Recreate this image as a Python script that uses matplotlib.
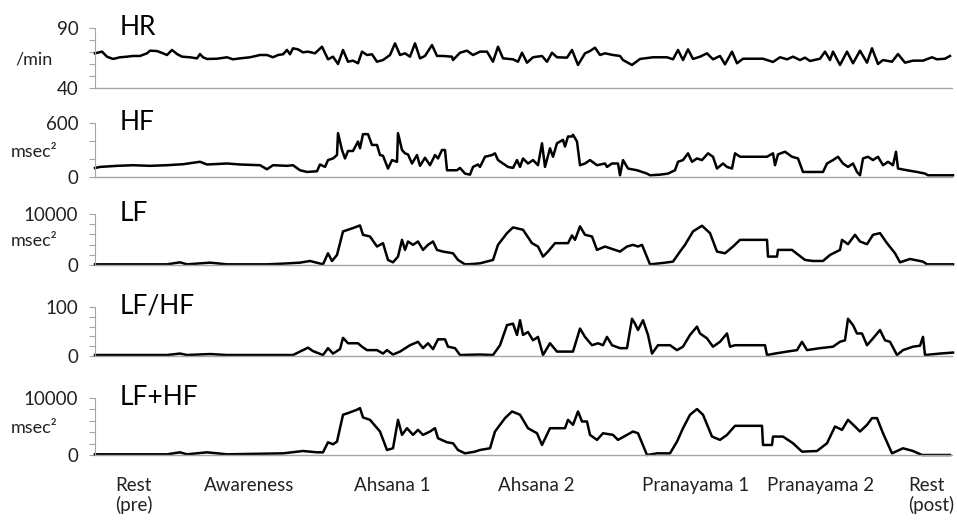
#%% Imports
import matplotlib
matplotlib.use('Agg')
import matplotlib.pyplot as plt
import matplotlib.transforms as mtransforms

plt.rcParams['font.family'] = ['Lato', 'DejaVu Sans']

#%% Data (time in arbitrary units)
hr_t = [0, 7, 12, 18, 25, 32, 38, 45, 52, 55, 62, 68, 72, 77, 82, 87, 95, 102, 105, 108,
        112, 122, 132, 138, 145, 155, 165, 172, 178, 183, 188, 192, 195, 198, 203, 208, 213, 220, 227, 233,
        238, 243, 248, 253, 258, 263, 267, 272, 277, 282, 288, 295, 300, 305, 310, 315, 320, 325, 330, 337,
        342, 348, 357, 358, 365, 372, 378, 385, 392, 398, 403, 408, 418, 423, 427, 432, 438, 447, 452, 457,
        462, 472, 477, 483, 490, 495, 500, 505, 510, 518, 525, 528, 537, 545, 558, 572, 578, 583, 588, 593,
        598, 605, 612, 618, 625, 630, 637, 642, 648, 668, 678, 685, 692, 698, 705, 710, 715, 725, 730, 735,
        738, 745, 752, 758, 765, 772, 777, 783, 788, 797, 803, 810, 818, 828, 837, 842, 850, 855]
hr = [68.9, 70.3, 66.1, 64.2, 65.6, 66.1, 66.7, 66.7, 68.9, 71.1, 70.8, 68.9, 67.5, 71.7, 68.3, 66.1, 65.6, 64.7, 68.3, 65.6,
      64.2, 64.4, 65.6, 63.9, 64.7, 65.6, 67.5, 67.5, 65.6, 67.5, 68.1, 71.7, 68.1, 73.1, 72.2, 69.7, 70.3, 68.9, 74.4, 63.9,
      66.1, 60.0, 71.7, 61.9, 62.8, 60.6, 70.3, 67.5, 68.1, 61.9, 63.3, 67.5, 77.2, 67.5, 68.9, 66.1, 77.2, 64.7, 66.7, 75.8,
      66.7, 66.7, 66.1, 63.3, 69.4, 71.1, 67.5, 70.3, 70.3, 61.9, 74.4, 64.7, 63.9, 61.9, 69.4, 61.1, 65.6, 66.7, 61.9, 69.4,
      65.6, 65.3, 71.7, 59.2, 68.9, 70.8, 73.6, 67.5, 68.9, 67.5, 66.7, 63.3, 59.2, 64.2, 65.6, 65.6, 63.9, 71.7, 63.3, 72.2,
      64.2, 66.1, 68.9, 63.9, 66.7, 59.7, 70.3, 60.6, 64.4, 64.4, 61.7, 65.6, 63.9, 66.1, 63.3, 65.3, 62.5, 64.4, 70.3, 63.3,
      70.3, 59.2, 70.3, 60.6, 71.1, 61.1, 73.1, 60.0, 63.3, 61.9, 68.3, 61.1, 62.8, 62.8, 65.6, 63.9, 64.4, 66.7]

hf_t = [0, 5, 22, 38, 55, 72, 88, 105, 112, 132, 145, 165, 172, 178, 192, 198, 205, 212, 222, 225,
        230, 233, 238, 242, 243, 247, 250, 253, 258, 263, 265, 268, 273, 277, 282, 285, 288, 293, 297, 302,
        303, 307, 310, 313, 317, 322, 325, 330, 335, 340, 343, 347, 350, 352, 362, 365, 370, 375, 378, 383,
        385, 390, 397, 400, 403, 408, 413, 418, 422, 425, 428, 433, 438, 443, 447, 450, 455, 458, 462, 468,
        470, 473, 477, 478, 482, 485, 490, 495, 502, 510, 512, 517, 523, 525, 528, 533, 542, 552, 555, 565,
        573, 580, 583, 588, 593, 597, 602, 607, 613, 618, 622, 628, 632, 637, 640, 645, 672, 678, 680, 683,
        690, 697, 703, 708, 718, 728, 732, 738, 743, 748, 753, 758, 762, 765, 768, 773, 778, 783, 788, 793,
        798, 801, 803, 812, 822, 830, 833, 845, 858]
hf = [100, 112, 124, 131, 124, 131, 142, 169, 139, 150, 139, 131, 86, 131, 124, 131, 75, 56, 64, 139,
      112, 188, 206, 244, 488, 300, 206, 289, 289, 394, 319, 476, 476, 356, 356, 244, 236, 94, 188, 169,
      488, 300, 263, 251, 150, 244, 124, 214, 131, 244, 206, 300, 300, 75, 75, 101, 38, 26, 112, 139,
      112, 225, 244, 263, 188, 150, 112, 101, 188, 112, 206, 150, 188, 131, 375, 112, 319, 225, 375, 413,
      338, 450, 450, 469, 394, 131, 150, 188, 131, 150, 112, 150, 150, 19, 188, 94, 75, 38, 19, 26,
      38, 75, 169, 188, 263, 169, 206, 188, 263, 225, 94, 150, 112, 94, 263, 225, 225, 263, 131, 251,
      281, 225, 206, 56, 56, 56, 150, 188, 225, 150, 112, 150, 56, 19, 206, 225, 188, 225, 131, 169,
      131, 281, 94, 75, 56, 38, 19, 19, 19]

lf_t = [0, 22, 72, 85, 92, 115, 132, 172, 188, 205, 215, 228, 233, 237, 242, 248, 258, 265, 268, 275,
        282, 288, 293, 298, 303, 307, 310, 313, 318, 323, 328, 333, 338, 342, 348, 358, 363, 370, 378,
        385, 398, 403, 412, 418, 428, 437, 443, 448, 453, 460, 473, 477, 480, 485, 490, 497, 502, 510, 515,
        525, 532, 538, 543, 547, 555, 565, 578, 585, 590, 598, 607, 615, 622, 630, 638, 645, 672, 673, 682,
        683, 697, 710, 718, 728, 735, 745, 747, 753, 760, 765, 772, 778, 785, 792, 800, 805, 815, 828, 832, 858]
lf = [130, 130, 130, 526, 130, 460, 130, 130, 263, 460, 790, 130, 2300, 790, 1970, 6580, 7240, 7760, 5920, 5590,
      3620, 4280, 990, 526, 1650, 4930, 2960, 4610, 3950, 4610, 2960, 3950, 4610, 2960, 2630, 2300, 990, 130, 200,
      330, 990, 3950, 6250, 7370, 6910, 4280, 3620, 1650, 2630, 4280, 4280, 5790, 4930, 7570, 5920, 5590, 2960, 3620, 3290,
      2630, 3620, 3950, 3620, 3950, 130, 330, 660, 2630, 3950, 6580, 7700, 6250, 2630, 2300, 3620, 4930, 4930, 1650, 1650,
      2960, 2960, 990, 790, 790, 1970, 2960, 4930, 4080, 5920, 4610, 4080, 5920, 6250, 4280, 2300, 526, 1180, 660, 130, 130]

ratio_t = [0, 72, 85, 92, 115, 132, 198, 208, 213, 218, 228, 233, 238, 245, 248, 253, 263, 267, 272, 282,
           288, 292, 298, 305, 315, 323, 328, 333, 338, 343, 350, 353, 360, 365,
           385, 398, 405, 412, 418, 422, 425, 428, 433, 438, 443, 448, 455, 462, 478, 485, 490, 497, 503, 508,
           512, 517, 525, 532, 537, 540, 543, 548, 553, 557, 563, 575, 582, 588, 595, 602, 605, 612, 618, 625,
           632, 635, 640, 645, 670, 672, 680, 692, 702, 707, 712, 725, 738, 745, 750, 753, 758, 762, 767, 772,
           778, 785, 790, 795, 802, 808, 818, 825, 828, 830, 845, 858]
ratio = [2, 2, 5, 2, 4, 2, 2, 12, 17, 10, 2, 16, 5, 14, 37, 26, 26, 19, 12, 12,
         5, 12, 3, 9, 22, 29, 16, 26, 14, 34, 34, 19, 16, 2,
         3, 2, 22, 63, 66, 43, 73, 43, 49, 32, 39, 2, 26, 9, 9, 56, 39, 22, 26, 22,
         39, 22, 16, 16, 76, 66, 53, 73, 43, 5, 22, 22, 12, 19, 43, 60, 46, 36, 19, 29,
         46, 19, 22, 22, 22, 2, 5, 9, 12, 29, 12, 16, 19, 29, 32, 76, 63, 46, 46, 22,
         36, 53, 32, 29, 2, 12, 19, 21, 39, 2, 5, 7]

total_t = [0, 72, 85, 92, 112, 132, 188, 208, 222, 228, 233, 238, 242, 248, 253, 262, 265, 268, 275, 285,
           292, 298, 303, 307, 312, 318, 323, 328, 335, 340, 343, 352, 358, 363, 370, 380,
           385, 395, 400, 410, 417, 425, 433, 442, 447, 455, 470, 473, 478, 483, 487, 492, 495, 502, 508, 518,
           523, 532, 538, 543, 552, 562, 575, 582, 588, 595, 602, 608, 617, 625, 632, 640, 667, 668, 677, 678,
           688, 698, 707, 722, 732, 740, 747, 753, 760, 765, 772, 777, 782, 788, 797, 808, 818, 827, 855]
total = [120, 120, 470, 120, 470, 120, 290, 700, 470, 470, 2230, 1880, 2350, 7060, 7350, 7940, 8230, 6590, 6170, 4120,
         880, 1180, 6170, 3530, 4700, 3530, 4410, 3530, 4120, 4700, 2940, 2230, 2060, 880, 290, 590,
         880, 1180, 4120, 6470, 7640, 7060, 4700, 3820, 1760, 4700, 4700, 6170, 5290, 7640, 5880, 5880, 3530, 2650, 3820, 3530,
         2650, 3530, 4120, 3820, 0, 290, 290, 2350, 4700, 7060, 8060, 7060, 3230, 2650, 3530, 5120, 5120, 1760, 1760, 3230,
         3230, 2060, 590, 700, 2060, 5000, 4410, 6170, 5000, 4120, 5290, 6470, 6470, 3820, 290, 1180, 700, 0, 0]

names = ['HR', 'HF', 'LF', 'LF/HF', 'LF+HF']
units = ['/min', 'msec\u00b2', 'msec\u00b2', '', 'msec\u00b2']
y_min = [40, 0, 0, 0, 0]
y_max = [90, 600, 10000, 100, 10000]
y_step = [10, 200, 2000, 20, 2000]

phases = ['Rest\n(pre)', 'Awareness', 'Ahsana 1', 'Ahsana 2', 'Pranayama 1', 'Pranayama 2', 'Rest\n(post)']
phase_mid = [39, 154, 297, 441, 601, 726, 836]

#%% Figure
fig = plt.figure(figsize=(9.57, 5.22), dpi=100)

# panel rectangles in pixels: (top, bottom)
W, H = 957, 522
rows = [(28, 88), (123, 177), (214, 265), (307, 356), (398, 455)]
series = [(hr_t, hr), (hf_t, hf), (lf_t, lf), (ratio_t, ratio), (total_t, total)]
grey = '#a6a6a6'

axes = []
for i, (top, bot) in enumerate(rows):
    ax = fig.add_axes([95 / W, 1 - bot / H, 857 / W, (bot - top) / H])
    t, v = series[i]
    ax.plot(t, v, color='black', lw=1.8, clip_on=False, solid_joinstyle='round')
    ax.set_xlim(0, 857)
    ax.set_ylim(y_min[i], y_max[i])

    ticks = list(range(y_min[i], y_max[i] + 1, y_step[i]))
    ax.set_yticks(ticks)
    ax.set_yticklabels([str(k) if k in (y_min[i], y_max[i]) else '' for k in ticks])
    ax.tick_params(axis='y', direction='out', length=4, width=0.8, color=grey,
                   pad=8, labelsize=13.5, labelcolor='#222222')
    ax.set_xticks([])
    for s in ['top', 'right']:
        ax.spines[s].set_visible(False)
    ax.spines['left'].set_color(grey)
    ax.spines['bottom'].set_color(grey)
    ax.spines['left'].set_linewidth(0.8)
    ax.spines['bottom'].set_linewidth(1.0)

    ax.annotate(names[i], xy=(0.029, 1), xycoords='axes fraction',
                xytext=(0, -5), textcoords='offset points', va='baseline',
                fontsize=19, color='black')
    if units[i]:
        ax.text(-0.071, 0.47, units[i], transform=ax.transAxes, ha='center',
                va='center', fontsize=13, color='#222222')
    axes.append(ax)

# phase labels under the last panel
trans = mtransforms.blended_transform_factory(axes[-1].transData, fig.transFigure)
for name, x in zip(phases, phase_mid):
    axes[-1].text(x, 1 - 477 / H, name, transform=trans, ha='center', va='top',
                  multialignment='left', fontsize=13.5, color='#222222',
                  linespacing=1.15, clip_on=False)

fig.savefig('out.png', dpi=100)
